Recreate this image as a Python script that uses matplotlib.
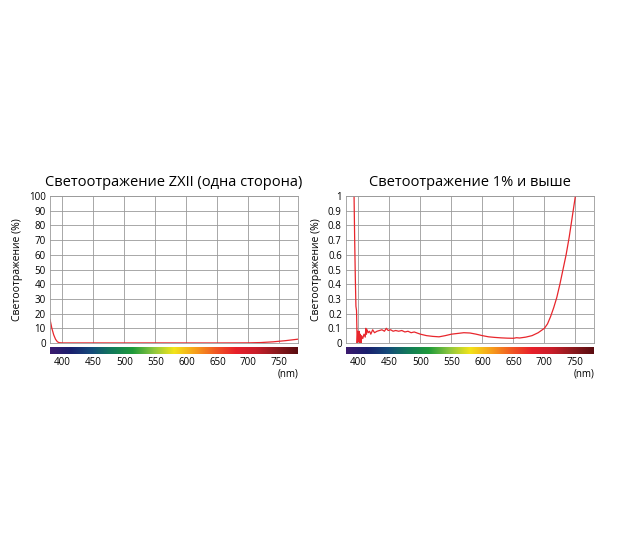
import matplotlib

matplotlib.use("Agg")
import matplotlib.pyplot as plt
import numpy as np
from matplotlib.colors import LinearSegmentedColormap

plt.rcParams["font.family"] = ["Open Sans", "DejaVu Sans"]

# ---- data ----
left_nm = [380, 383, 386, 389, 392, 395, 400, 450, 500, 550, 600, 650, 700, 720, 740, 760, 780]
left_val = [16, 10, 5.5, 2.5, 0.8, 0.2, 0.05, 0.06, 0.04, 0.07, 0.04, 0.03, 0.1, 0.3, 0.8, 1.6, 2.6]

right_nm = [393, 394, 395, 396, 397, 398, 399, 400, 401, 402, 403, 404, 405, 407, 409,
            411, 412, 413, 414, 416, 418, 420, 423, 426, 430, 434, 438, 442, 445, 448,
            452, 456, 460, 465, 470, 475, 480, 485, 490, 500, 510, 520, 530, 540, 550,
            560, 570, 580, 590, 600, 610, 620, 630, 640, 650, 655, 660, 670, 680, 690,
            700, 705, 710, 715, 720, 725, 730, 735, 740, 745, 750]
right_val = [1.0, 0.7, 0.45, 0.25, 0.22, 0.0, 0.08, 0.01, 0.08, 0.0, 0.06, 0.0, 0.05, 0.03, 0.06,
             0.04, 0.1, 0.06, 0.09, 0.07, 0.08, 0.06, 0.09, 0.07, 0.08, 0.085, 0.09, 0.08, 0.1, 0.085,
             0.09, 0.08, 0.085, 0.08, 0.085, 0.075, 0.08, 0.07, 0.075, 0.06, 0.05, 0.045, 0.042, 0.05, 0.06,
             0.065, 0.07, 0.068, 0.06, 0.05, 0.042, 0.038, 0.035, 0.033, 0.032, 0.036, 0.034, 0.04, 0.05, 0.07,
             0.1, 0.13, 0.18, 0.24, 0.31, 0.4, 0.5, 0.6, 0.72, 0.86, 1.0]

spectrum = ["#3b1a6e", "#1a1f6e", "#144a7a", "#127a5a", "#1e9a3a", "#8cc63f", "#f2e41a",
            "#f7a21b", "#f15a24", "#e8202a", "#c81e2a", "#8c1a1e", "#5a0c10"]
xticks = [400, 450, 500, 550, 600, 650, 700, 750]

fig = plt.figure(figsize=(6.17, 5.40), dpi=100)
W, H = 617, 540
cmap = LinearSegmentedColormap.from_list("spec", spectrum)


def panel(x0, title, xs, ys, ylim, yticks, ylabels):
    ax = fig.add_axes([x0 / W, 1 - 343 / H, 248 / W, 147 / H])
    ax.plot(xs, ys, color="#e8262c", lw=0.9, clip_on=True)
    ax.set_xlim(380, 780)
    ax.set_ylim(*ylim)
    ax.set_xticks(xticks)
    ax.set_yticks(yticks)
    ax.set_yticklabels(ylabels)
    ax.tick_params(axis="x", labelbottom=False, length=0)
    ax.tick_params(axis="y", length=0, labelsize=7, pad=3)
    ax.grid(True, color="#9a9a9a", lw=0.6)
    for s in ax.spines.values():
        s.set_color("#9a9a9a")
        s.set_linewidth(0.6)
    ax.set_ylabel("Светоотражение (%)", fontsize=7.5, labelpad=4)
    ax.set_title(title, fontsize=10.5, pad=7)

    sp = fig.add_axes([x0 / W, 1 - 354 / H, 248 / W, 7 / H])
    sp.imshow(np.linspace(0, 1, 256)[None, :], aspect="auto", cmap=cmap, extent=[380, 780, 0, 1])
    sp.set_xlim(380, 780)
    sp.set_yticks([])
    sp.set_xticks(xticks)
    sp.tick_params(axis="x", length=0, labelsize=7, pad=2)
    for s in sp.spines.values():
        s.set_visible(False)
    fig.text((x0 + 248) / W, 1 - 374 / H, "(nm)", fontsize=7, ha="right", va="center")


panel(50, "Светоотражение ZXII (одна сторона)", left_nm, left_val, (0, 100),
      list(range(0, 101, 10)), [str(v) for v in range(0, 101, 10)])
panel(346, "Светоотражение 1% и выше", right_nm, right_val, (0, 1),
      [i / 10 for i in range(11)], ["0"] + [f"0.{i}" for i in range(1, 10)] + ["1"])

fig.savefig("out.png", dpi=100)
